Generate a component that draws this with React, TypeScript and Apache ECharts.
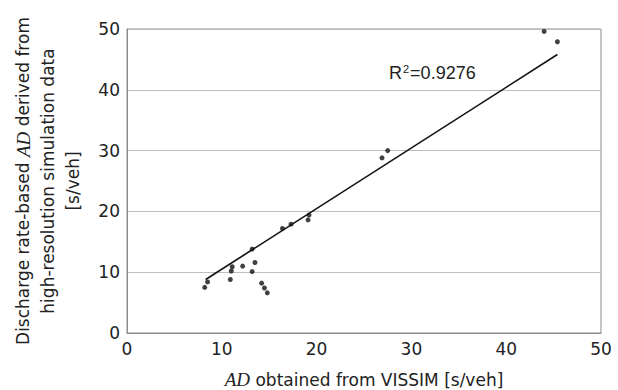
import React, { useEffect, useRef } from "react";
import * as echarts from "echarts";

const xValues = [8.2, 8.5, 10.9, 11.0, 11.1, 12.2, 13.2, 13.2, 13.5, 14.2, 14.5, 14.8, 16.4, 17.3, 19.1, 19.2, 26.9, 27.5, 44.0, 45.4];
const yValues = [7.5, 8.4, 8.8, 10.2, 10.9, 11.0, 13.8, 10.1, 11.6, 8.2, 7.4, 6.6, 17.2, 17.9, 18.6, 19.4, 28.8, 30.0, 49.6, 47.9];
const trendX = [8.3, 45.4];
const trendY = [8.8, 45.8];
const tickValues = [0, 10, 20, 30, 40, 50];
const r2Label = "0.9276";
const yTitleLines = ["Discharge rate-based {i|AD} derived from", "high-resolution simulation data", "[s/veh]"];

const FONT = "'DejaVu Sans', Verdana, sans-serif";
const SERIF = "'Liberation Serif', 'Times New Roman', serif";

export default function App() {
  const ref = useRef<HTMLDivElement>(null);
  useEffect(() => {
    if (!ref.current) return;
    const chart = echarts.init(ref.current, null, { renderer: "svg" });
    const points = xValues.map((x, i) => [x, yValues[i]]);
    const trend = trendX.map((x, i) => [x, trendY[i]]);
    const axisMin = tickValues[0];
    const axisMax = tickValues[tickValues.length - 1];
    const interval = tickValues[1] - tickValues[0];
    const yTitle = yTitleLines.map((t, i) => ({
      type: "text",
      x: 23 + i * 25,
      y: 181,
      rotation: Math.PI / 2,
      style: {
        text: t,
        fontSize: 17,
        fontFamily: FONT,
        fill: "#222",
        align: "center",
        verticalAlign: "middle",
        rich: {
          i: { fontFamily: SERIF, fontStyle: "italic", fontSize: 19, fill: "#222" },
        },
      },
    }));
    chart.setOption({
      animation: false,
      textStyle: { fontFamily: FONT },
      grid: {
        left: 127,
        top: 29,
        right: 17,
        bottom: 57,
        show: true,
        borderColor: "#8c8c8c",
        borderWidth: 1,
        containLabel: false,
        outerBoundsMode: "none",
      },
      xAxis: {
        type: "value",
        min: axisMin,
        max: axisMax,
        interval,
        splitLine: { show: false },
        axisLine: { show: true, lineStyle: { color: "#8c8c8c", width: 1 } },
        axisTick: { show: false },
        axisLabel: { color: "#222", fontSize: 17, margin: 7, fontFamily: FONT },
        name: "{i|AD} obtained from VISSIM [s/veh]",
        nameLocation: "middle",
        nameGap: 37,
        nameTextStyle: {
          color: "#222",
          fontSize: 17,
          fontFamily: FONT,
          rich: {
            i: { fontFamily: SERIF, fontStyle: "italic", fontSize: 19, color: "#222" },
          },
        },
      },
      yAxis: {
        type: "value",
        min: axisMin,
        max: axisMax,
        interval,
        splitLine: { show: true, lineStyle: { color: "#bdbdbd", width: 1 } },
        axisLine: { show: true, lineStyle: { color: "#8c8c8c", width: 1 } },
        axisTick: { show: false },
        axisLabel: { color: "#222", fontSize: 17, margin: 7, fontFamily: FONT },
      },
      graphic: [
        ...yTitle,
        {
          type: "text",
          left: 389,
          top: 63,
          style: {
            text: "R{sup|2}=" + r2Label,
            fontSize: 18,
            fontFamily: "'Liberation Sans', Arial, sans-serif",
            fill: "#222",
            rich: {
              sup: { fontSize: 11, verticalAlign: "top", padding: [0, 1, 8, 1], fill: "#222", fontFamily: "'Liberation Sans', Arial, sans-serif" },
            },
          },
        },
      ],
      series: [
        {
          type: "line",
          data: trend,
          showSymbol: false,
          symbol: "none",
          lineStyle: { color: "#111", width: 1.6 },
          z: 2,
        },
        {
          type: "scatter",
          data: points,
          symbol: "circle",
          symbolSize: 5,
          itemStyle: { color: "#111" },
          z: 3,
        },
      ],
    });
    return () => chart.dispose();
  }, []);
  return <div ref={ref} style={{ width: 618, height: 390, position: "absolute", left: 0, top: 0 }} />;
}
